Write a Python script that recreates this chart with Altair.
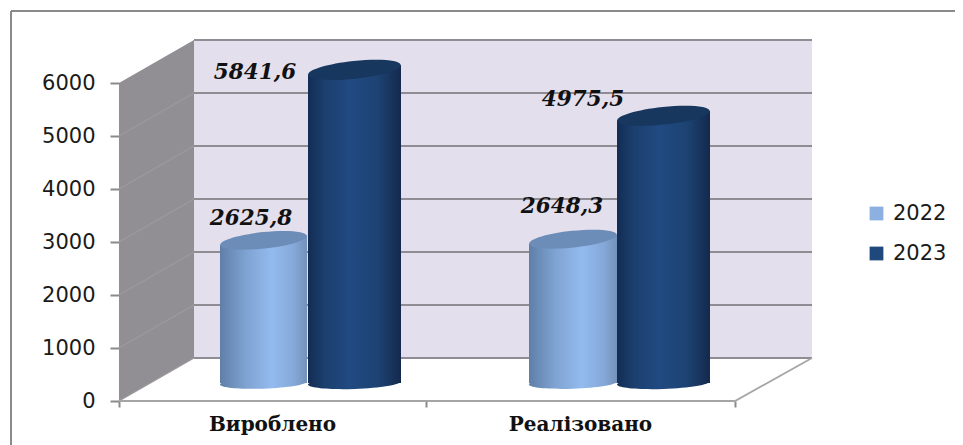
import altair as alt
import pandas as pd

categories = ["Вироблено", "Реалізовано"]
years = ["2022", "2023"]
values_2022 = [2625.8, 2648.3]
values_2023 = [5841.6, 4975.5]
label_2022 = ["2625,8", "2648,3"]
label_2023 = ["5841,6", "4975,5"]
y_ticks = [0, 1000, 2000, 3000, 4000, 5000, 6000]

# layout of the imitated 3D box, in x-scale units and y-scale units
W, H = 693, 361
PX = 0.053                # pixels per value unit
DEPTH_X, DEPTH_Y = 75, 811
MID = DEPTH_Y / 2
BASE = 340                # where the cylinder sides end
TILT = 89                 # rise of the top ellipse from its centre to its right end
CAT_TICKS = [0, 307, 616]
BAR_BOUNDS = {(0, "2022"): (101, 188), (0, "2023"): (189, 282),
              (1, "2022"): (410, 498), (1, "2023"): (498, 591)}
LABEL_X = {(0, "2022"): 132, (0, "2023"): 136, (1, "2022"): 443, (1, "2023"): 464}
LABEL_DY = {(0, "2022"): -21, (0, "2023"): 3, (1, "2022"): -32, (1, "2023"): -16}

rows, side_rows = [], []
for i, c in enumerate(categories):
    for yr, vals, labs in (("2022", values_2022, label_2022), ("2023", values_2023, label_2023)):
        x0, x1 = BAR_BOUNDS[(i, yr)]
        top = vals[i] + MID
        rows.append({"cat": c, "year": yr, "value": vals[i], "label": labs[i],
                     "x0": x0, "x1": x1, "cx": (x0 + x1) / 2, "size": (x1 - x0) ** 2,
                     "base": BASE, "top": top, "solid_top": top - TILT,
                     "lx": LABEL_X[(i, yr)], "ly": top - LABEL_DY[(i, yr)] / PX})
        side_rows.append({"year": yr, "cat": c, "x": x0, "base": BASE, "edge": top - TILT})
        side_rows.append({"year": yr, "cat": c, "x": x1, "base": BASE, "edge": top + TILT})
bars = pd.DataFrame(rows)
sides = pd.DataFrame(side_rows)

AXIS = "#8a8a8a"
GRID = "#8f8c93"
TEXT = "#1a1a1a"

xs = alt.Scale(domain=[0, W], nice=False, zero=False)
ys = alt.Scale(domain=[0, H / PX], nice=False, zero=False)
x_axis = alt.Axis(values=CAT_TICKS, labels=False, domain=False, grid=False, title=None,
                  tickColor=AXIS, tickSize=6, tickWidth=2)
y_axis = alt.Axis(values=y_ticks, domain=False, grid=False, format="d", title=None,
                  tickColor=AXIS, tickSize=9, tickWidth=2, labelPadding=15,
                  labelFont="DejaVu Sans", labelFontSize=21, labelColor=TEXT)
X = lambda f: alt.X(f, type="quantitative", scale=xs, axis=x_axis)
Y = lambda f: alt.Y(f, type="quantitative", scale=ys, axis=y_axis)

grad = lambda cols: alt.LinearGradient(gradient="linear", x1=0, x2=1, y1=0, y2=0,
                                       stops=[alt.GradientStop(offset=o, color=c) for o, c in cols])
g22 = grad([(0, "#5f7fa8"), (0.3, "#7fa3d2"), (0.6, "#93bbef"), (0.85, "#85a8d8"), (1, "#7492ba")])
g23 = grad([(0, "#132d54"), (0.18, "#1b3f6e"), (0.45, "#214a82"), (0.75, "#1d4373"), (1, "#14294c")])
TOP_ELLIPSE = "M -1 0 A 1 0.19 0 1 1 1 0 A 1 0.19 0 1 1 -1 0 Z"
BOTTOM_ELLIPSE = "M -1 0 A 1 0.13 0 1 1 1 0 A 1 0.13 0 1 1 -1 0 Z"

frame_v = alt.Chart(bars).mark_rule(color=AXIS, strokeWidth=2).encode(
    x=alt.value(-108), y=alt.value(-29), y2=alt.value(405))
frame_h = alt.Chart(bars).mark_rule(color=AXIS, strokeWidth=2).encode(
    x=alt.value(-108), x2=alt.value(844), y=alt.value(-29))

# walls
back = alt.Chart(pd.DataFrame({"x": [DEPTH_X], "x2": [W], "y": [DEPTH_Y], "y2": [6000 + DEPTH_Y]})).mark_rect(
    color="#e4dfec").encode(x=X("x"), x2="x2", y=Y("y"), y2="y2")
side = alt.Chart(pd.DataFrame({"x": [0, DEPTH_X], "y": [0, DEPTH_Y], "y2": [6000, 6000 + DEPTH_Y]})).mark_area(
    color="#918f94", opacity=1).encode(x=X("x"), y=Y("y"), y2="y2")

grid_rows = []
for v in y_ticks[:-1]:
    grid_rows += [{"v": v, "x": 0, "y": v}, {"v": v, "x": DEPTH_X, "y": v + DEPTH_Y}]
side_grid = alt.Chart(pd.DataFrame(grid_rows)).mark_line(color="#9c9a9f", strokeWidth=1.2).encode(
    x=X("x"), y=Y("y"), detail="v:N")
back_grid = alt.Chart(pd.DataFrame({"x": [DEPTH_X] * 7, "x2": [W] * 7,
                                    "y": [v + DEPTH_Y for v in y_ticks]})).mark_rule(
    color=GRID, strokeWidth=1.8).encode(x=X("x"), x2="x2", y=Y("y"))
floor = alt.Chart(pd.DataFrame({"x": [0, CAT_TICKS[-1], W], "y": [0, 0, DEPTH_Y]})).mark_line(
    color="#a5a5a5", strokeWidth=1.8).encode(x=X("x"), y=Y("y"))

# solid bars carry the legend; gradients sit on top
def cylinder(yr, gradient, top_col):
    d = alt.Chart(bars[bars.year == yr])
    color = alt.Color("year:N", scale=alt.Scale(domain=years, range=["#8cb0e0", "#1f497d"]),
                      legend=alt.Legend(title=None, orient="none", legendX=747, legendY=163,
                                        symbolType="square", symbolSize=190, symbolStrokeWidth=0,
                                        labelFont="DejaVu Sans", labelFontSize=21, labelColor=TEXT,
                                        rowPadding=18, labelOffset=6))
    size = alt.Size("size:Q", scale=None, legend=None)
    base = d.mark_rect().encode(x=X("x0"), x2="x1", y=Y("base"), y2="solid_top", color=color)
    bottom = d.mark_point(shape=BOTTOM_ELLIPSE, filled=True, opacity=1, angle=358, color=gradient, strokeWidth=0).encode(
        x=X("cx"), y=Y("base"), size=size)
    body = alt.Chart(sides[sides.year == yr]).mark_area(color=gradient, opacity=1).encode(
        x=X("x"), y=Y("base"), y2="edge", detail="cat:N")
    top = d.mark_point(shape=TOP_ELLIPSE, filled=True, opacity=1, angle=354, color=top_col, strokeWidth=0).encode(
        x=X("cx"), y=Y("top"), size=size)
    return [base, bottom, body, top]

cat_labels = alt.Chart(pd.DataFrame({"cat": categories,
                                     "x": [(CAT_TICKS[0] + CAT_TICKS[1]) / 2, (CAT_TICKS[1] + CAT_TICKS[2]) / 2]})).mark_text(
    font="DejaVu Serif", fontWeight="bold", fontSize=20, color="#111111", baseline="middle").encode(
    x=X("x"), y=alt.value(385), text="cat:N")

value_labels = alt.Chart(bars).mark_text(
    font="DejaVu Serif", fontWeight="bold", fontStyle="italic", fontSize=21.5, color="#111111", baseline="middle").encode(
    x=X("lx"), y=Y("ly"), text="label:N")

layers = [frame_v, frame_h, back, side, side_grid, back_grid, floor]
layers += cylinder("2022", g22, "#6c8db8")
layers += cylinder("2023", g23, "#17375f")
layers += [cat_labels, value_labels]

chart = alt.layer(*layers).properties(
    width=W, height=H, background="white",
    padding={"left": 111, "top": 32, "right": 143, "bottom": 44},
    autosize=alt.AutoSizeParams(type="none"),
).configure_view(stroke=None)

chart.save("out.html", embed_options={"renderer": "svg", "actions": False})
